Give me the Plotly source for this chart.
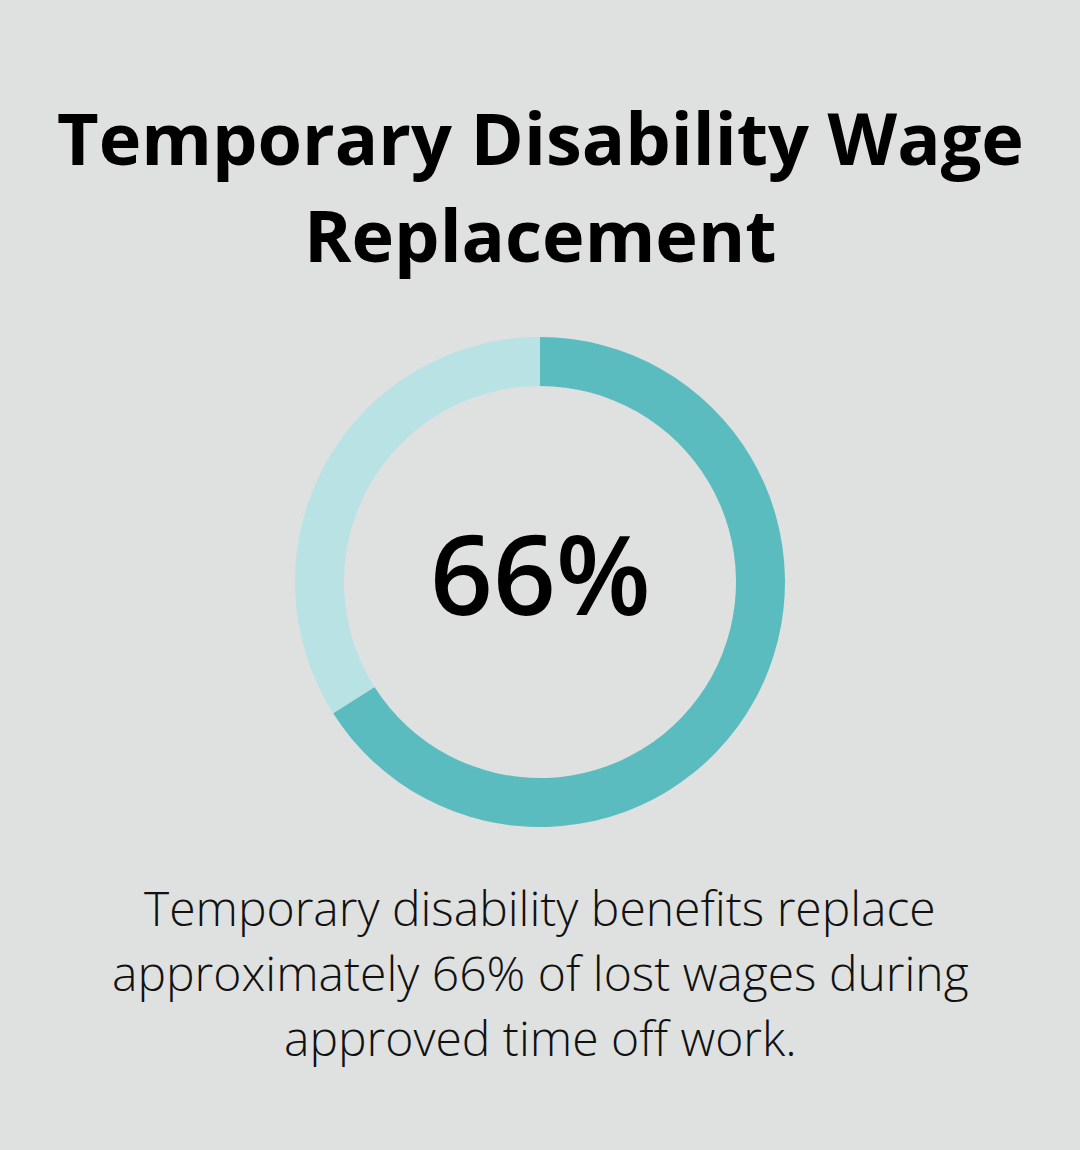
import plotly.graph_objects as go

labels = ["Wages replaced", "Not replaced"]
values = [66, 34]
colors = ["#5BBCBF", "#B8E2E4"]
title_lines = ["Temporary Disability Wage", "Replacement"]
center_text = "66%"
caption_lines = [
    "Temporary disability benefits replace",
    "approximately 66% of lost wages during",
    "approved time off work.",
]

W, H = 1080, 1150
bg = "#DFE1E0"
cx, cy, R = 540, 582, 245

fig = go.Figure(go.Pie(
    labels=labels, values=values, hole=0.80, sort=False, direction="clockwise",
    rotation=0, marker=dict(colors=colors, line=dict(width=0)),
    textinfo="none", hoverinfo="label+value", showlegend=False,
    domain=dict(x=[(cx - R) / W, (cx + R) / W], y=[1 - (cy + R) / H, 1 - (cy - R) / H]),
))

ann = []
for i, t in enumerate(title_lines):
    ann.append(dict(text=t, x=0.5, y=1 - (137 + i * 97) / H, xref="paper", yref="paper",
                    showarrow=False, xanchor="center", yanchor="middle",
                    font=dict(family="Open Sans", size=72, color="#000000", weight=700)))
ann.append(dict(text=center_text, x=0.5, y=1 - 572 / H, xref="paper", yref="paper",
                showarrow=False, xanchor="center", yanchor="middle",
                font=dict(family="Open Sans", size=110, color="#000000", weight=600)))
for i, t in enumerate(caption_lines):
    ann.append(dict(text=t, x=0.5, y=1 - (907 + i * 65) / H, xref="paper", yref="paper",
                    showarrow=False, xanchor="center", yanchor="middle",
                    font=dict(family="Open Sans", size=48, color="#111111", weight=300)))

fig.update_layout(
    width=W, height=H, margin=dict(l=0, r=0, t=0, b=0),
    paper_bgcolor=bg, plot_bgcolor=bg, annotations=ann,
)
fig.write_html("out.html")
